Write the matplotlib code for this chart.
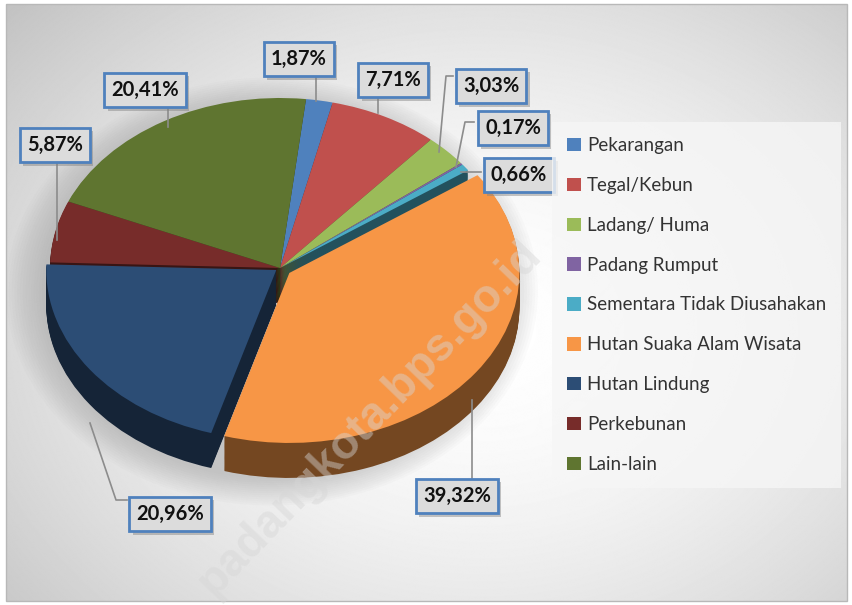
import numpy as np
import matplotlib.pyplot as plt
import matplotlib.colors as mcolors
import matplotlib.patheffects as pe
from matplotlib.patches import Rectangle, Ellipse

categories = ["Pekarangan", "Tegal/Kebun", "Ladang/ Huma", "Padang Rumput",
              "Sementara Tidak Diusahakan", "Hutan Suaka Alam Wisata",
              "Hutan Lindung", "Perkebunan", "Lain-lain"]
shares = [1.87, 7.71, 3.03, 0.17, 0.66, 39.32, 20.96, 5.87, 20.41]
colors = ["#4F81BD", "#C0504D", "#9BBB59", "#8064A2", "#4BACC6",
          "#F79646", "#2C4D75", "#772C2A", "#5F7530"]
explode = [0, 0, 0, 0, 0, 0.05, 0.02, 0, 0]

W, H = 852, 605
CX, CY = 280, 268      # pie centre in pixels
RX, RY = 230, 170      # top face radii in pixels
DEPTH = 35             # thickness of the pie in pixels

# label boxes and leader lines, pixel coords (same order as categories)
label_xy = [(299, 59), (393, 80), (491, 86), (513, 128), (519, 175),
            (457, 496), (170, 514), (55, 145), (145, 90)]
leaders = [[(316, 76), (316, 101)],
           [(378, 97), (378, 113)],
           [(453, 76), (446, 76), (439, 152)],
           [(474, 122), (465, 122), (456, 167)],
           [(481, 172), (461, 172)],
           [(472, 478), (472, 400)],
           [(127, 500), (116, 500), (90, 423)],
           [(57, 162), (57, 240)],
           [(168, 107), (168, 127)]]


def darken(c, f):
    r, g, b = mcolors.to_rgb(c)
    return (r * f, g * f, b * f)


fig = plt.figure(figsize=(W / 100, H / 100), dpi=100)
fig.patch.set_facecolor("white")

# grey radial background inside the frame
bg = fig.add_axes([0, 0, 1, 1])
yy, xx = np.mgrid[0:H, 0:W]
r = np.hypot((xx - 480) / 560, (yy - 330) / 430)
shade = 1 - 0.19 * np.clip(r, 0, 1.4) ** 1.7
bg.imshow(shade, cmap="gray", vmin=0, vmax=1, extent=(6, 847, 601, 4), aspect="auto")
bg.set_xlim(0, W)
bg.set_ylim(H, 0)
bg.axis("off")

# soft shadow under the pie
for k in range(14):
    s = 1 + k * 0.012
    bg.add_patch(Ellipse((CX - 8, CY + DEPTH / 2 + 6), 2 * RX * s, 2 * RY * s + DEPTH,
                         color="#8a8a8a", alpha=0.03, lw=0))

# pie: stacked layers for the side, then the top face
ax = fig.add_axes([0, 0, 1, 1])
ax.patch.set_visible(False)
side_cols = [darken(c, 0.47) for c in colors]
for d in np.linspace(DEPTH, 1, 32):
    ax.pie(shares, colors=side_cols, explode=explode, startangle=83.5,
           counterclock=False, center=(0, -d / RY),
           wedgeprops=dict(linewidth=0))
wedges, _ = ax.pie(shares, colors=colors, explode=explode, startangle=83.5,
                   counterclock=False, center=(0, 0),
                   wedgeprops=dict(linewidth=0))
ax.set_xlim(-CX / RX, (W - CX) / RX)
ax.set_ylim((CY - H) / RY, CY / RY)
ax.set_aspect("auto")
ax.axis("off")

# overlay in pixel coordinates
ov = fig.add_axes([0, 0, 1, 1])
ov.set_xlim(0, W)
ov.set_ylim(H, 0)
ov.axis("off")
ov.add_patch(Rectangle((6, 4), 841, 597, fill=False, ec="#b8b8b8", lw=1))

ov.text(370, 418, "padangkota.bps.go.id", rotation=46, fontsize=33,
        weight="bold", color="#d6d6d6", alpha=0.45, ha="center", va="center",
        family="Liberation Sans", zorder=3)

for pts in leaders:
    xs, ys = zip(*pts)
    ov.plot(xs, ys, color="#8c8c8c", lw=1.2, zorder=4)

for v, (x, y) in zip(shares, label_xy):
    txt = f"{v:.2f}%".replace(".", ",")
    t = ov.text(x, y, txt, ha="center", va="center", fontsize=14.5, weight="bold",
                family="Lato", color="#111111", zorder=5,
                bbox=dict(boxstyle="square,pad=0.35", fc="#dcdcdc", ec="#4F81BD", lw=2))
    t.get_bbox_patch().set_path_effects(
        [pe.SimplePatchShadow(offset=(2.5, -2.5), shadow_rgbFace="#808080", alpha=0.45),
         pe.Normal()])

leg = fig.legend(wedges, categories, loc="upper left",
                 bbox_to_anchor=(552 / W, 1 - 122 / H), frameon=True,
                 fancybox=False, facecolor="#f6f6f6", edgecolor="none",
                 framealpha=0.8, prop=dict(family="Lato", size=13.5),
                 labelspacing=1.22, handlelength=0.72, handleheight=0.72,
                 handletextpad=0.35, borderpad=0.8, borderaxespad=0)
for t in leg.get_texts():
    t.set_color("#333333")

fig.savefig("out.png", dpi=100)
